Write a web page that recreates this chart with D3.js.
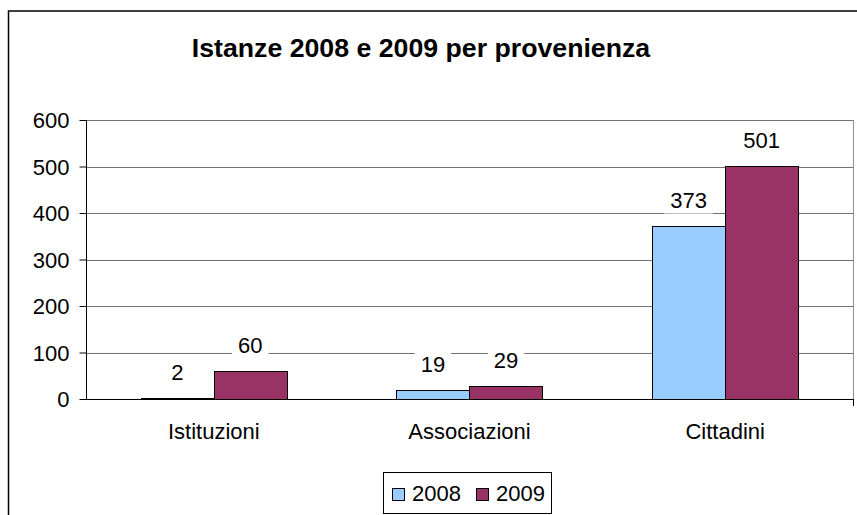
<!DOCTYPE html>
<html><head><meta charset="utf-8">
<script src="https://cdn.jsdelivr.net/npm/d3@7"></script>
<style>body{margin:0;background:#fff}svg{display:block}text{font-family:"Liberation Sans",Arial,sans-serif}</style>
</head><body>
<svg id="c" width="857" height="515"></svg>
<script>
const title = "Istanze 2008 e 2009 per provenienza";
const categories = ["Istituzioni", "Associazioni", "Cittadini"];
const seriesNames = ["2008", "2009"];
const values2008 = [2, 19, 373];
const values2009 = [60, 29, 501];
const yTicks = [0, 100, 200, 300, 400, 500, 600];
const colors = ["#99CCFF", "#993366"];

const FS = 22;
const svg = d3.select("#c");
svg.append("rect").attr("width", 857).attr("height", 515).attr("fill", "#fff");
// outer chart border
svg.append("rect").attr("x", 8.5).attr("y", 11).attr("width", 900).attr("height", 600)
  .attr("fill", "none").attr("stroke", "#000").attr("stroke-width", 1.5);

const L = 86, R = 853, T = 120, B = 399;
const x0 = d3.scaleBand().domain(categories).range([L, R]).paddingInner(0).paddingOuter(0);
const step = x0.bandwidth();
const x1 = d3.scaleBand().domain(seriesNames)
  .range([step * 0.75 / 3.5, step * 2.75 / 3.5]).padding(0);
const y = d3.scaleLinear().domain([0, 600]).range([B, T]);

// gridlines
svg.append("g").selectAll("line").data(yTicks.filter(d => d > 0)).join("line")
  .attr("x1", L).attr("x2", R).attr("y1", d => Math.round(y(d)) + 0.5).attr("y2", d => Math.round(y(d)) + 0.5)
  .attr("stroke", "#707070").attr("stroke-width", 1);
// right border of plot area
svg.append("line").attr("x1", R + 0.5).attr("x2", R + 0.5).attr("y1", T).attr("y2", B)
  .attr("stroke", "#909090");

const data = categories.map((c, i) => ({cat: c, vals: [values2008[i], values2009[i]]}));

const g = svg.append("g");
data.forEach(d => {
  d.vals.forEach((v, j) => {
    const bx = x0(d.cat) + x1(seriesNames[j]);
    g.append("rect").attr("x", Math.round(bx) + 0.5).attr("y", Math.round(y(v)) + 0.5)
      .attr("width", Math.round(x1.bandwidth())).attr("height", Math.max(0, Math.round(B - y(v)) ))
      .attr("fill", colors[j]).attr("stroke", "#000").attr("stroke-width", 1);
  });
});

// value labels with white background
data.forEach(d => {
  d.vals.forEach((v, j) => {
    const cx = x0(d.cat) + x1(seriesNames[j]) + x1.bandwidth() / 2;
    const by = y(v) - 18;
    const t = g.append("text").attr("x", cx).attr("y", by).attr("text-anchor", "middle")
      .attr("font-size", FS).attr("fill", "#000").text(v);
    const bb = t.node().getBBox();
    g.insert("rect", () => t.node()).attr("x", bb.x - 6).attr("y", bb.y - 1).attr("width", bb.width + 12)
      .attr("height", bb.height + 2).attr("fill", "#fff");
  });
});

// y axis
const yAxis = d3.axisLeft(y).tickValues(yTicks).tickSize(7).tickPadding(10);
const ya = svg.append("g").attr("transform", `translate(${L + 0.5},0)`).call(yAxis);
ya.select(".domain").attr("d", `M-0,${T}V${B + 0.5}`).attr("stroke", "#000");
ya.selectAll("line").attr("stroke", "#000");
ya.selectAll("text").attr("font-size", FS).attr("fill", "#000").attr("dy", "0.35em")
  .attr("font-family", '"Liberation Sans",Arial,sans-serif');

// x axis baseline
svg.append("line").attr("x1", L).attr("x2", R).attr("y1", B + 0.5).attr("y2", B + 0.5).attr("stroke", "#000");
svg.append("line").attr("x1", R + 0.5).attr("x2", R + 0.5).attr("y1", B).attr("y2", B + 7).attr("stroke", "#000");
// category labels
svg.append("g").selectAll("text").data(categories).join("text")
  .attr("x", d => x0(d) + x0.bandwidth() / 2).attr("y", 439).attr("text-anchor", "middle")
  .attr("font-size", FS).attr("fill", "#000").text(d => d);

// title
svg.append("text").attr("x", 421).attr("y", 57).attr("text-anchor", "middle")
  .attr("font-size", 26.7).attr("font-weight", "bold").attr("fill", "#000").text(title);

// legend
const lg = svg.append("g");
lg.append("rect").attr("x", 383.5).attr("y", 472.5).attr("width", 168).attr("height", 41)
  .attr("fill", "#fff").attr("stroke", "#000");
const legX = [392, 476];
seriesNames.forEach((s, j) => {
  lg.append("rect").attr("x", legX[j] + 0.5).attr("y", 488.5).attr("width", 12).attr("height", 12)
    .attr("fill", colors[j]).attr("stroke", "#000");
  lg.append("text").attr("x", legX[j] + 20).attr("y", 501).attr("font-size", FS).attr("fill", "#000").text(s);
});
</script>
</body></html>
